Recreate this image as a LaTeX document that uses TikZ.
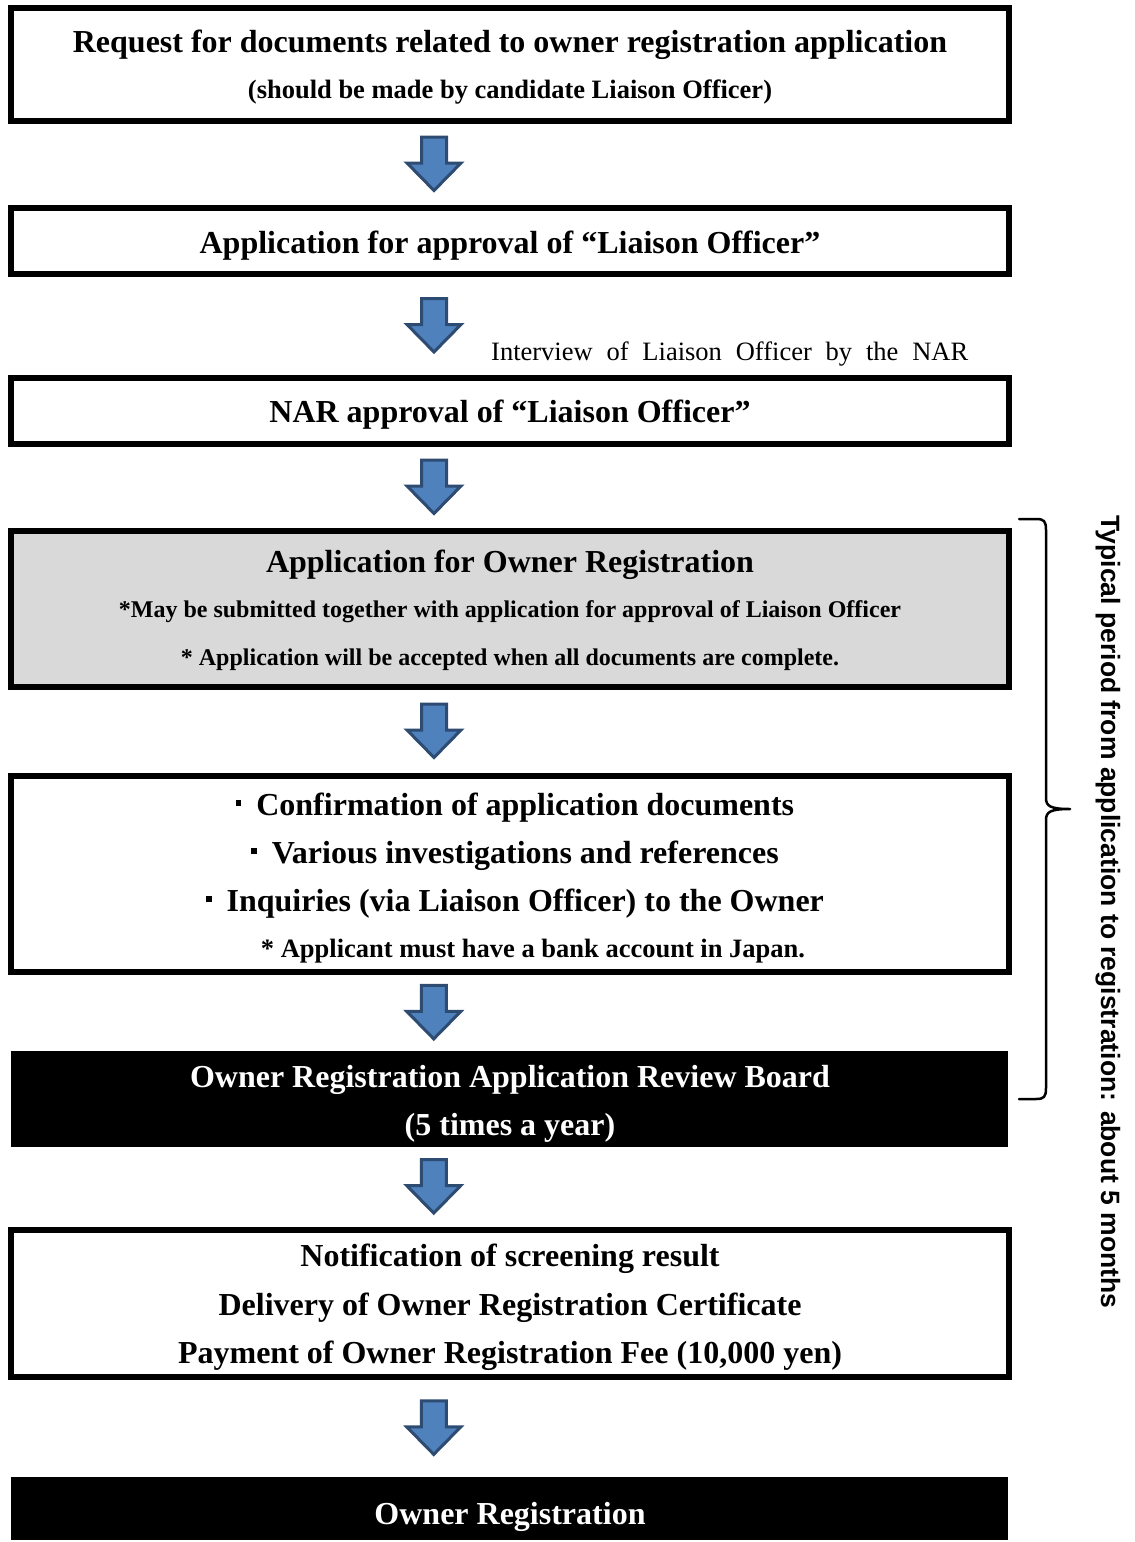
\documentclass[tikz,border=0pt]{standalone}
\usepackage{fontspec}
\setmainfont{Liberation Serif}
\newfontfamily\sidefont{Liberation Sans}
\usetikzlibrary{calc}
\definecolor{arrowfill}{HTML}{4F81BD}
\definecolor{arrowline}{HTML}{2E4B72}
\definecolor{graybox}{HTML}{D9D9D9}
\newcommand{\sqbullet}{\rule[9.5pt]{5.5pt}{5.5pt}\hspace{15pt}}
\tikzset{
  box/.style={draw=black, line width=6pt, minimum width=998pt, inner sep=0pt},
  darkbox/.style={fill=black, minimum width=997pt, inner sep=0pt},
  bigtxt/.style={font=\bfseries\fontsize{32}{38}\selectfont, anchor=base, inner sep=0pt},
  smalltxt/.style={font=\bfseries\fontsize{26.5}{31}\selectfont, anchor=base, inner sep=0pt},
  notetxt/.style={font=\bfseries\fontsize{24}{29}\selectfont, anchor=base, inner sep=0pt},
  barrowstyle/.style={fill=arrowfill, draw=arrowline, line width=3pt, line join=miter},
  pics/blockarrow/.style={code={
    \draw[barrowstyle] (-12.5,-27.5) -- (12.5,-27.5) -- (12.5,-1.5) -- (27,-1.5)
      -- (0,26) -- (-27,-1.5) -- (-12.5,-1.5) -- cycle;}},
  bracestyle/.style={draw=black, line width=2.5pt, line cap=round, line join=round}
}
\begin{document}
\begin{tikzpicture}[x=1pt,y=-1pt]
\useasboundingbox (0,0) rectangle (1135,1542);

% boxes
\node[box, minimum height=113pt] (b1) at (510,64.5) {};
\node[box, minimum height=66pt] (b2) at (510,241) {};
\node[box, minimum height=66pt] (b3) at (510,411) {};
\node[box, fill=graybox, minimum height=156pt] (b4) at (510,609) {};
\node[box, minimum height=196pt] (b5) at (510,874) {};
\node[darkbox, minimum height=96pt] (b6) at (509.5,1099) {};
\node[box, minimum height=147pt] (b7) at (510,1303.5) {};
\node[darkbox, minimum height=63pt] (b8) at (509.5,1508.5) {};

% texts
\node[bigtxt] (t1a) at (510,52.5) {Request for documents related to owner registration application};
\node[smalltxt] (t1b) at (510,98) {(should be made by candidate Liaison Officer)};
\node[bigtxt] (t2) at (510,253) {Application for approval of “Liaison Officer”};
\node[anchor=base west, inner sep=0pt, font=\fontsize{26.5}{31}\selectfont] (iv) at (491,360.5)
  {\makebox[477pt][s]{Interview of Liaison Officer by the NAR}};
\node[bigtxt] (t3) at (510,422) {NAR approval of “Liaison Officer”};
\node[bigtxt] (t4a) at (510,572) {Application for Owner Registration};
\node[notetxt] (t4b) at (510,617) {*May be submitted together with application for approval of Liaison Officer};
\node[notetxt] (t4c) at (510,665) {* Application will be accepted when all documents are complete.};
\node[bigtxt] (t5a) at (515,815) {\sqbullet Confirmation of application documents};
\node[bigtxt] (t5b) at (515,863) {\sqbullet Various investigations and references};
\node[bigtxt] (t5c) at (515,911) {\sqbullet Inquiries (via Liaison Officer) to the Owner};
\node[smalltxt] (t5d) at (533,957) {* Applicant must have a bank account in Japan.};
\node[bigtxt, text=white] (t6a) at (510,1087) {Owner Registration Application Review Board};
\node[bigtxt, text=white] (t6b) at (510,1135) {(5 times a year)};
\node[bigtxt] (t7a) at (510,1266) {Notification of screening result};
\node[bigtxt] (t7b) at (510,1315) {Delivery of Owner Registration Certificate};
\node[bigtxt] (t7c) at (510,1363) {Payment of Owner Registration Fee (10,000 yen)};
\node[bigtxt, text=white] (t8) at (510,1524) {Owner Registration};

% arrows
\pic (a1) at ($(b1.south)!0.5!(b2.north)+(-76,0)$) {blockarrow};
\pic (a2) at ($(b2.south)!0.5!(b3.north)+(-76,0)$) {blockarrow};
\pic (a3) at ($(b3.south)!0.5!(b4.north)+(-76,0)$) {blockarrow};
\pic (a4) at ($(b4.south)!0.5!(b5.north)+(-76,0)$) {blockarrow};
\pic (a5) at ($(b5.south)!0.5!(b6.north)+(-76,0)$) {blockarrow};
\pic (a6) at ($(b6.south)!0.5!(b7.north)+(-76,0)$) {blockarrow};
\pic (a7) at ($(b7.south)!0.5!(b8.north)+(-76,0)$) {blockarrow};

% brace
\coordinate (brtop) at (1019,519);
\coordinate (brbot) at (1019,1099);
\coordinate (brtip) at (1070,809);
\draw[bracestyle] (brtop) -- (1036,519) .. controls (1044,519) and (1046,521) .. (1046,530)
  -- (1046,798) .. controls (1046,806) and (1050,809) .. (brtip)
  .. controls (1050,809) and (1046,812) .. (1046,820)
  -- (1046,1088) .. controls (1046,1097) and (1044,1099) .. (1036,1099) -- (brbot);
\node[rotate=-90, anchor=base, inner sep=0pt, font=\sidefont\bfseries\fontsize{26.5}{31}\selectfont] (side) at (1101,912)
  {Typical period from application to registration: about 5 months};
\end{tikzpicture}
\end{document}
